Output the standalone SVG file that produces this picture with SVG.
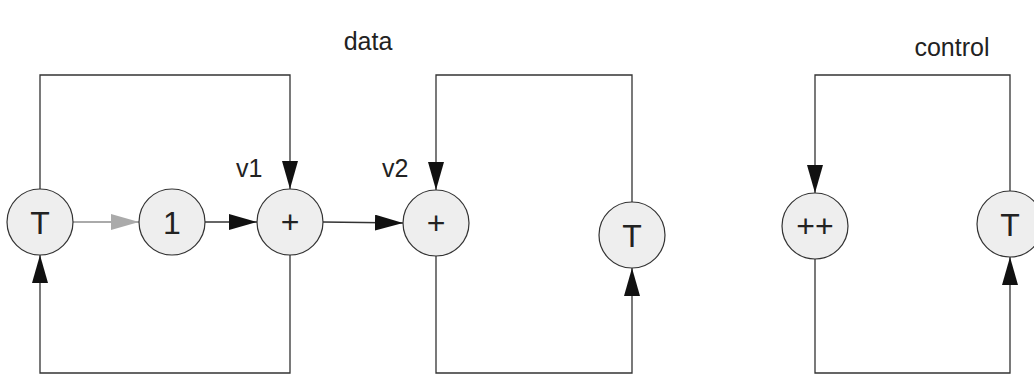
<svg xmlns="http://www.w3.org/2000/svg" width="1034" height="377" viewBox="0 0 1034 377">
<style>
.node circle{fill:#eeeeee;stroke:#333;stroke-width:1.2}
.node text{font-family:"Liberation Sans",Arial,sans-serif;font-size:32px;fill:#222;text-anchor:middle}
.lbl{font-family:"Liberation Sans",Arial,sans-serif;font-size:25px;fill:#222}
.c{fill:none;stroke:#333;stroke-width:1.3}
.g{fill:none;stroke:#aaa;stroke-width:2}
</style>
<defs>
<marker id="ah" markerUnits="userSpaceOnUse" markerWidth="28" markerHeight="16" refX="28" refY="8" orient="auto">
<path d="M0,0 L28,8 L0,16 Z" fill="#111"/>
</marker>
<marker id="ahg" markerUnits="userSpaceOnUse" markerWidth="28" markerHeight="16" refX="28" refY="8" orient="auto">
<path d="M0,0 L28,8 L0,16 Z" fill="#aaa"/>
</marker>
</defs>
<text class="lbl" x="368" y="50" text-anchor="middle">data</text>
<text class="lbl" x="952" y="56" text-anchor="middle">control</text>
<text class="lbl" x="236" y="177">v1</text>
<text class="lbl" x="382" y="177">v2</text>
<g id="connectors">
<path class="c" d="M40,189 V75 H290 V189" marker-end="url(#ah)"/>
<path class="c" d="M290,255 V373 H40 V255" marker-end="url(#ah)"/>
<path class="g" d="M73,222 H139" marker-end="url(#ahg)"/>
<path class="c" d="M205,222 H257" marker-end="url(#ah)"/>
<path class="c" d="M323,222 L403,223" marker-end="url(#ah)"/>
<path class="c" d="M632,202 V75 H436 V190" marker-end="url(#ah)"/>
<path class="c" d="M436,256 V373 H632 V268" marker-end="url(#ah)"/>
<path class="c" d="M1010,191 V75 H815 V193" marker-end="url(#ah)"/>
<path class="c" d="M815,259 V373 H1010 V257" marker-end="url(#ah)"/>
</g>
<g id="n_T1" class="node"><circle cx="40" cy="222" r="33"/><text x="40" y="234">T</text></g>
<g id="n_1" class="node"><circle cx="172" cy="222" r="33"/><text x="172" y="234">1</text></g>
<g id="n_plus1" class="node"><circle cx="290" cy="222" r="33"/><text x="290" y="233">+</text></g>
<g id="n_plus2" class="node"><circle cx="436" cy="223" r="33"/><text x="436" y="234">+</text></g>
<g id="n_T2" class="node"><circle cx="632" cy="235" r="33"/><text x="632" y="247">T</text></g>
<g id="n_inc" class="node"><circle cx="815" cy="226" r="33"/><text x="815" y="237">++</text></g>
<g id="n_T3" class="node"><circle cx="1010" cy="224" r="33"/><text x="1010" y="236">T</text></g>
</svg>
